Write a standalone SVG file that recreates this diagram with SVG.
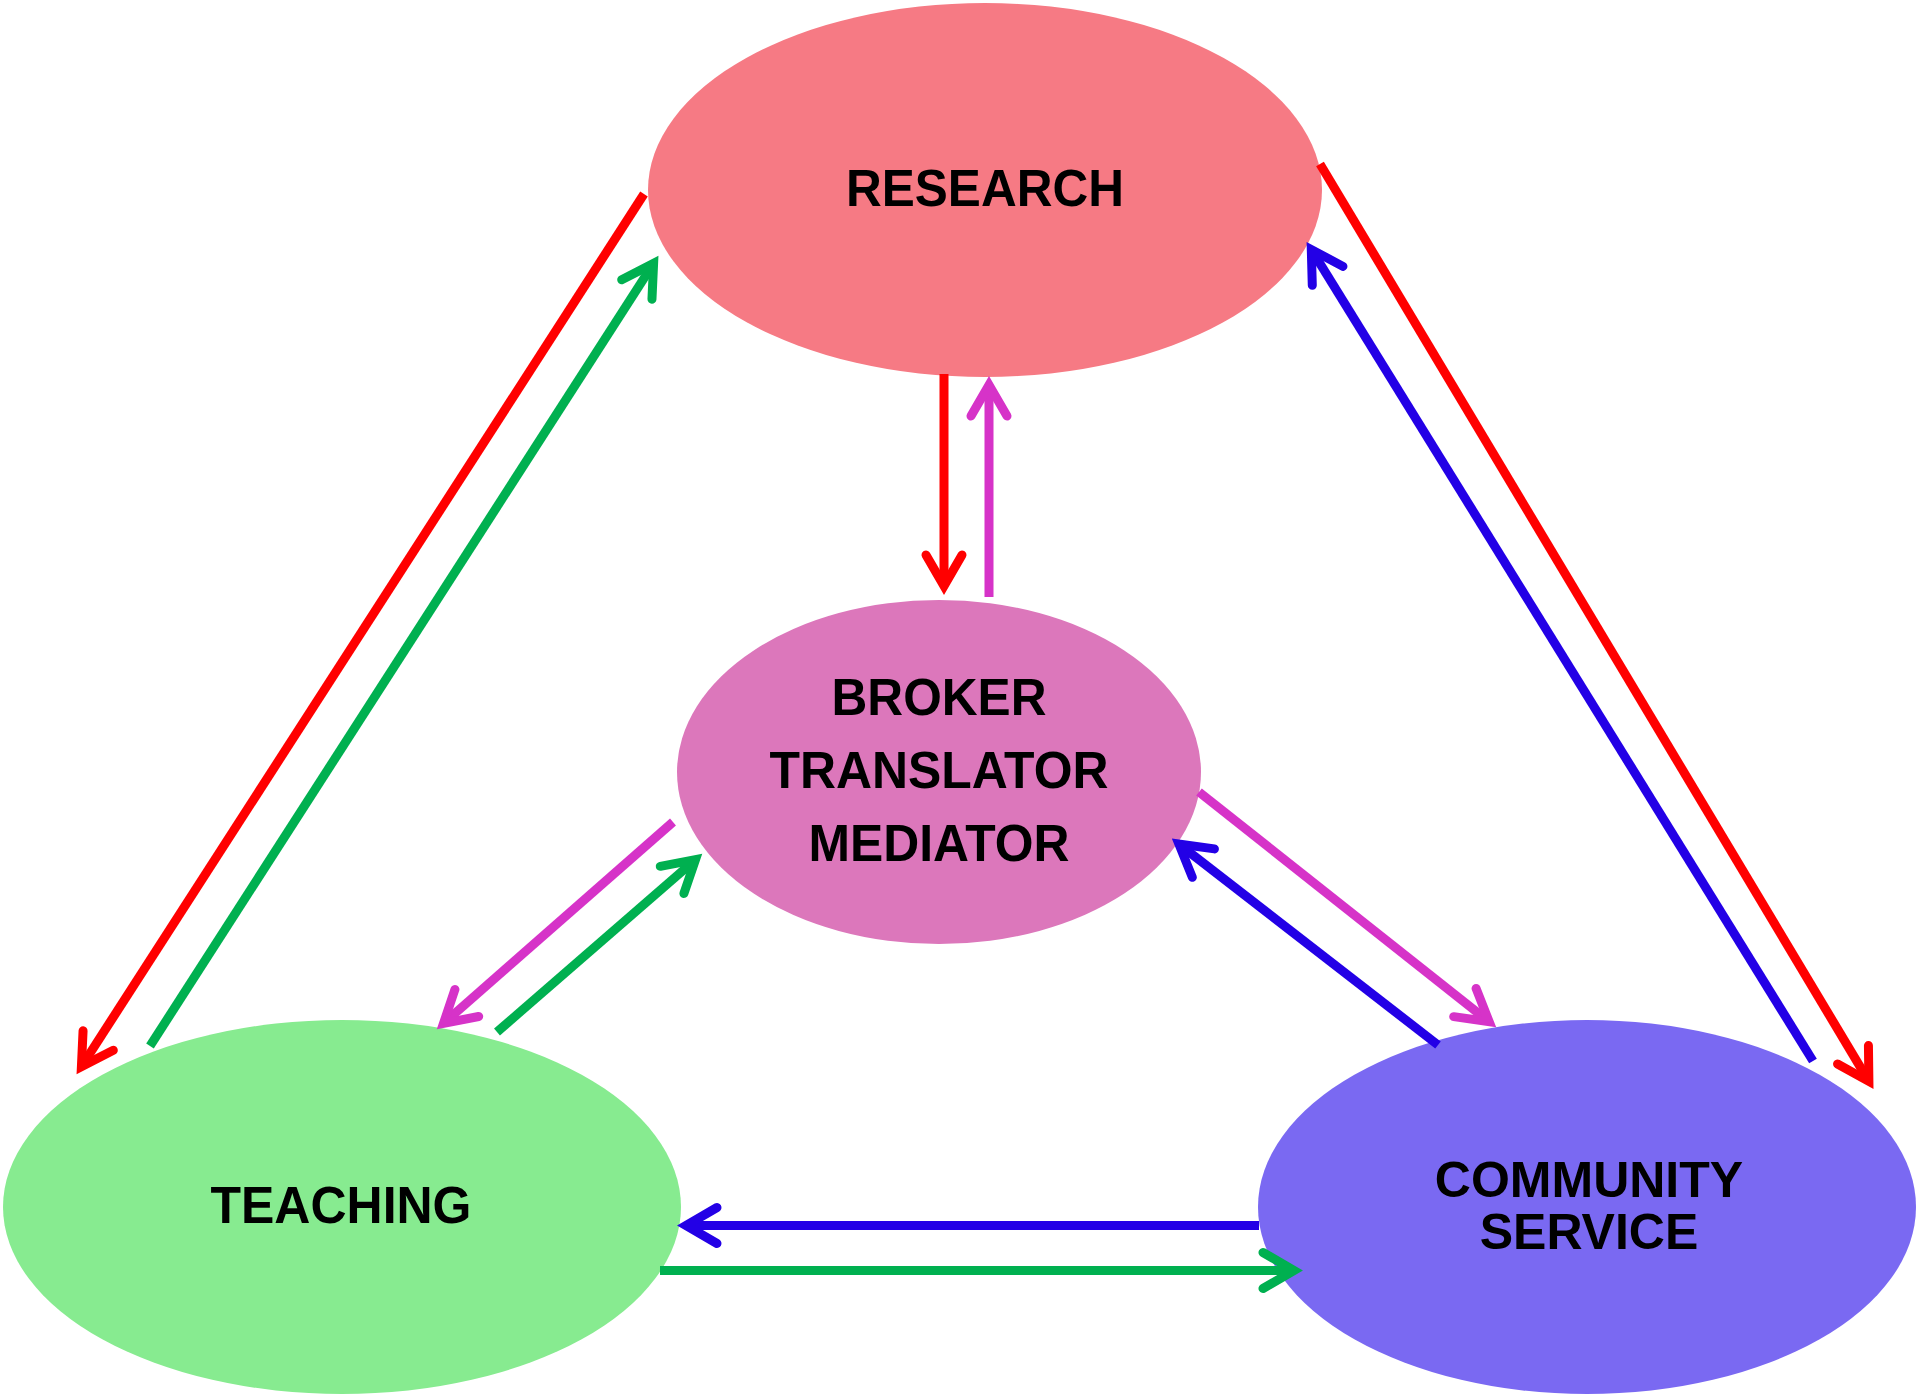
<svg xmlns="http://www.w3.org/2000/svg" width="1920" height="1394" viewBox="0 0 1920 1394">
<defs>
<style>
.lbl{font-family:"Liberation Sans",Arial,sans-serif;font-weight:bold;font-size:52px;fill:#000;text-anchor:middle}
.sm{font-size:50px}
.c{fill:none;stroke-width:9;stroke-linecap:butt}
.red{stroke:#FF0000}
.grn{stroke:#00B050}
.blu{stroke:#2300E6}
.mag{stroke:#D633C8}
.head{fill:none;stroke-width:9;stroke-linejoin:miter;stroke-linecap:round}
</style>
<marker id="hRed" markerUnits="userSpaceOnUse" orient="auto" refX="0" refY="0" markerWidth="80" markerHeight="80" viewBox="-40 -40 80 80" overflow="visible"><path class="head" stroke="#FF0000" d="M-31,-18 L0,0 L-31,18"/></marker>
<marker id="hGrn" markerUnits="userSpaceOnUse" orient="auto" refX="0" refY="0" markerWidth="80" markerHeight="80" viewBox="-40 -40 80 80" overflow="visible"><path class="head" stroke="#00B050" d="M-31,-18 L0,0 L-31,18"/></marker>
<marker id="hBlu" markerUnits="userSpaceOnUse" orient="auto" refX="0" refY="0" markerWidth="80" markerHeight="80" viewBox="-40 -40 80 80" overflow="visible"><path class="head" stroke="#2300E6" d="M-31,-18 L0,0 L-31,18"/></marker>
<marker id="hMag" markerUnits="userSpaceOnUse" orient="auto" refX="0" refY="0" markerWidth="80" markerHeight="80" viewBox="-40 -40 80 80" overflow="visible"><path class="head" stroke="#D633C8" d="M-31,-18 L0,0 L-31,18"/></marker>
</defs>
<rect width="1920" height="1394" fill="#FFFFFF"/>
<g id="research">
<ellipse cx="985" cy="190" rx="337" ry="187" fill="#F67A84"/>
<text class="lbl" x="985" y="206" textLength="278" lengthAdjust="spacingAndGlyphs">RESEARCH</text>
</g>
<g id="broker">
<ellipse cx="939" cy="772" rx="262" ry="172" fill="#DC77BB"/>
<text class="lbl" x="939" y="715" textLength="215" lengthAdjust="spacingAndGlyphs">BROKER</text>
<text class="lbl" x="939" y="788" textLength="339" lengthAdjust="spacingAndGlyphs">TRANSLATOR</text>
<text class="lbl" x="939" y="861" textLength="261" lengthAdjust="spacingAndGlyphs">MEDIATOR</text>
</g>
<g id="teaching">
<ellipse cx="342" cy="1207" rx="339" ry="187" fill="#87EB90"/>
<text class="lbl" x="341" y="1223" textLength="261" lengthAdjust="spacingAndGlyphs">TEACHING</text>
</g>
<g id="community">
<ellipse cx="1587" cy="1207" rx="329" ry="187" fill="#7A69F2"/>
<text class="lbl sm" x="1589" y="1197">COMMUNITY</text>
<text class="lbl sm" x="1589" y="1249">SERVICE</text>
</g>
<g id="connectors">
<line class="c red" x1="644" y1="194" x2="81.4" y2="1066.6" marker-end="url(#hRed)"/>
<line class="c grn" x1="150" y1="1046" x2="653.6" y2="263.4" marker-end="url(#hGrn)"/>
<line class="c red" x1="944" y1="374" x2="944" y2="586" marker-end="url(#hRed)"/>
<line class="c mag" x1="989" y1="597" x2="989" y2="385" marker-end="url(#hMag)"/>
<line class="c red" x1="1320" y1="164" x2="1868.9" y2="1081.4" marker-end="url(#hRed)"/>
<line class="c blu" x1="1813" y1="1061" x2="1311.3" y2="249.5" marker-end="url(#hBlu)"/>
<line class="c mag" x1="673" y1="822" x2="443.5" y2="1023.4" marker-end="url(#hMag)"/>
<line class="c grn" x1="497" y1="1032" x2="695.5" y2="859.6" marker-end="url(#hGrn)"/>
<line class="c mag" x1="1199" y1="792" x2="1489.2" y2="1021.8" marker-end="url(#hMag)"/>
<line class="c blu" x1="1438" y1="1045" x2="1178.9" y2="844.1" marker-end="url(#hBlu)"/>
<line class="c blu" x1="1259" y1="1225.5" x2="686" y2="1225.5" marker-end="url(#hBlu)"/>
<line class="c grn" x1="660" y1="1270.5" x2="1294" y2="1270.5" marker-end="url(#hGrn)"/>
</g>
</svg>
